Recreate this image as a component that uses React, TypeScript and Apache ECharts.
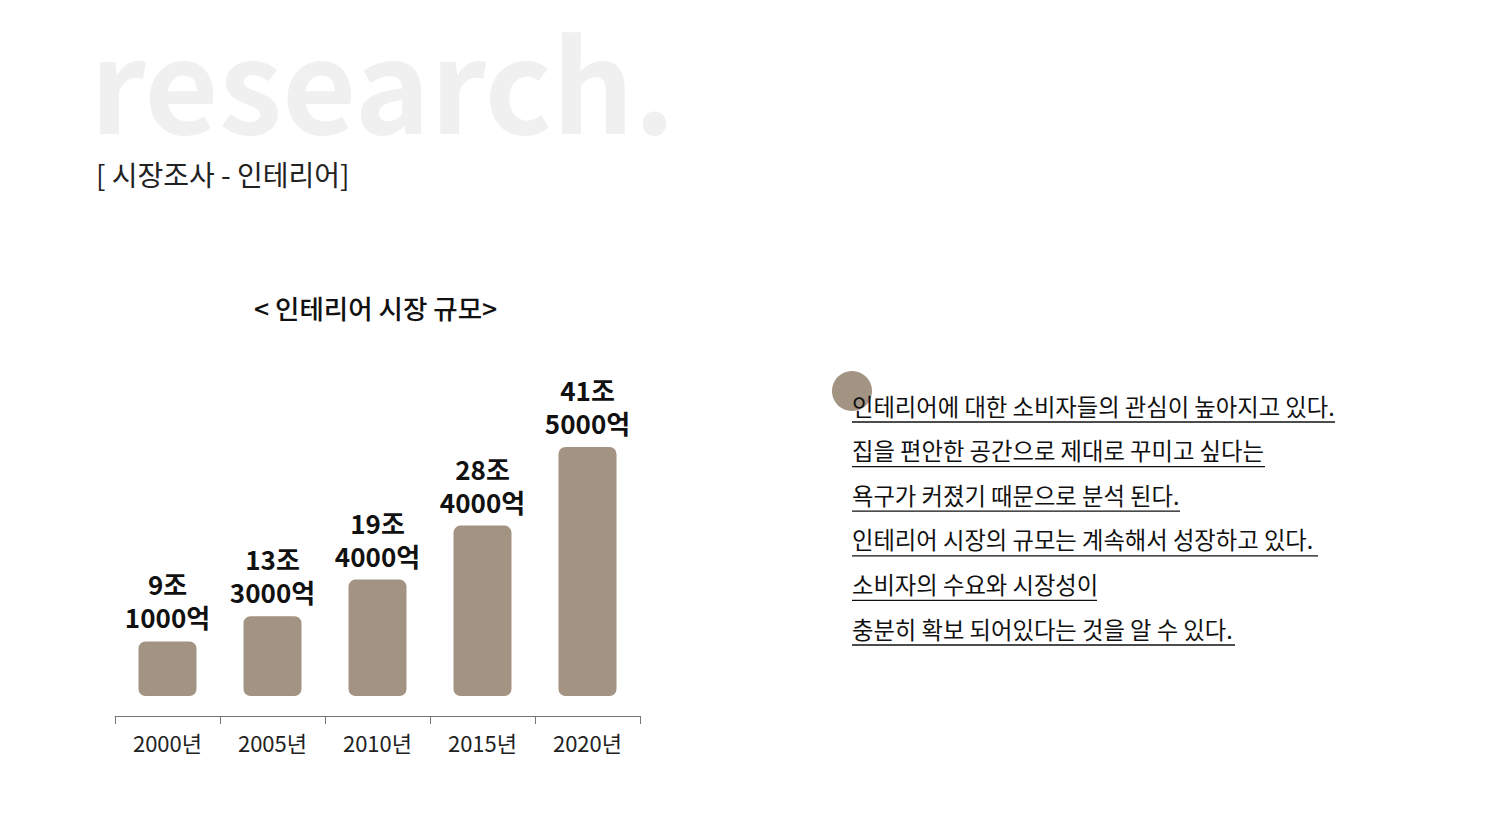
import React, { useEffect, useRef } from "react";
import * as echarts from "echarts";

const years = ["2000년", "2005년", "2010년", "2015년", "2020년"];
const values = [9.1, 13.3, 19.4, 28.4, 41.5];
const valueLabels = ["9조\n1000억", "13조\n3000억", "19조\n4000억", "28조\n4000억", "41조\n5000억"];
const notes = [
  "인테리어에 대한 소비자들의 관심이 높아지고 있다.",
  "집을 편안한 공간으로 제대로 꾸미고 싶다는",
  "욕구가 커졌기 때문으로 분석 된다.",
  "인테리어 시장의 규모는 계속해서 성장하고 있다.",
  "소비자의 수요와 시장성이",
  "충분히 확보 되어있다는 것을 알 수 있다.",
];
const noteWidths = [483, 413, 328, 466, 245, 383];

const FONT = "'Noto Sans CJK KR', 'Noto Sans', sans-serif";
const BROWN = "#a39382";

const App: React.FC = () => {
  const ref = useRef<HTMLDivElement>(null);

  useEffect(() => {
    if (!ref.current) return;
    const chart = echarts.init(ref.current, null, { renderer: "svg" });

    const noteGraphics: any[] = [];
    notes.forEach((t, i) => {
      const y = 410 + i * 44.6;
      noteGraphics.push({
        type: "text",
        left: 852,
        top: y - 16,
        style: { text: t, font: `23.3px ${FONT}`, fill: "#111" },
        z: 10,
      });
      noteGraphics.push({
        type: "line",
        shape: { x1: 852, y1: y + 12, x2: 852 + noteWidths[i], y2: y + 12 },
        style: { stroke: "#111", lineWidth: 1.3 },
        z: 10,
      });
    });

    chart.setOption({
      animation: false,
      textStyle: { fontFamily: FONT },
      graphic: [
        {
          type: "text",
          left: 90,
          top: 14,
          style: { text: "research.", font: `bold 128px ${FONT}`, fill: "#f0f0f0" },
          z: 0,
        },
        {
          type: "text",
          left: 96,
          top: 160,
          style: { text: "[ 시장조사 - 인테리어]", font: `28px ${FONT}`, fill: "#222" },
          z: 5,
        },
        {
          type: "text",
          left: 254,
          top: 294,
          style: { text: "< 인테리어 시장 규모>", font: `500 26.5px ${FONT}`, fill: "#111" },
        },
        {
          type: "circle",
          shape: { cx: 852, cy: 391, r: 20 },
          style: { fill: BROWN },
          z: 1,
        },
        ...noteGraphics,
      ],
      grid: { left: 115, width: 525, top: 426, height: 290 },
      xAxis: {
        type: "category",
        data: years,
        axisLine: { show: true, onZero: false, lineStyle: { color: "#777" } },
        axisTick: { show: true, length: 8, lineStyle: { color: "#777" } },
        axisLabel: { fontSize: 22, color: "#222", margin: 15 },
      },
      yAxis: {
        type: "value",
        min: -3.33,
        max: 45,
        show: false,
        splitLine: { show: false },
      },
      series: [
        {
          type: "bar",
          data: values,
          barWidth: 58,
          itemStyle: { color: BROWN, borderRadius: 7 },
          label: {
            show: true,
            position: "top",
            distance: 8,
            formatter: (p: any) => valueLabels[p.dataIndex],
            fontSize: 26,
            fontWeight: "bold",
            lineHeight: 33,
            color: "#111",
          },
        },
      ],
    });
    return () => chart.dispose();
  }, []);

  return (
    <div
      ref={ref}
      style={{ position: "absolute", left: 0, top: 0, width: 1495, height: 840, background: "#fff" }}
    />
  );
};

export default App;
